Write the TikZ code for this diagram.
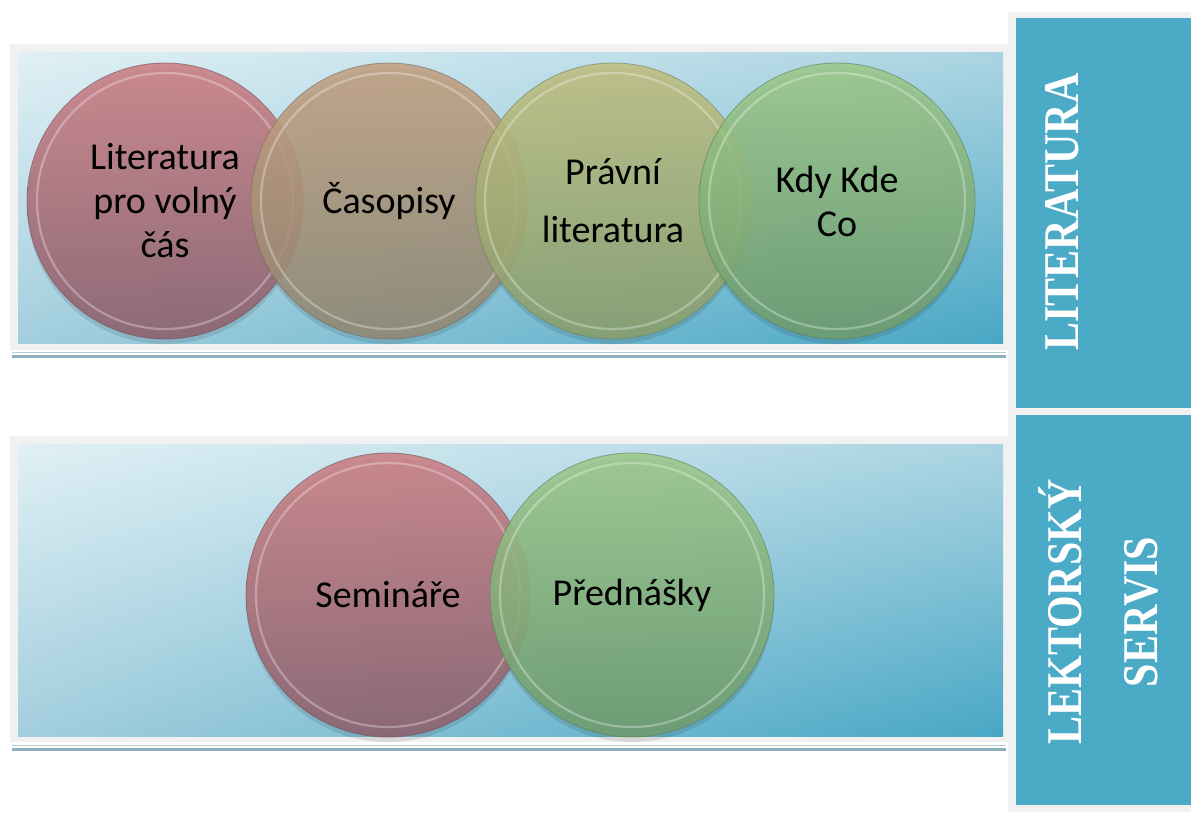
\documentclass[tikz,border=0pt]{standalone}
\usepackage{fontspec}
\usetikzlibrary{shadings}
\newfontfamily\circfont{Carlito}
\newfontfamily\sidefont[FakeStretch=0.84]{Liberation Serif Bold}
\definecolor{framegray}{HTML}{F1F1F1}
\definecolor{sideblue}{HTML}{4BABC7}
\definecolor{pnlUL}{HTML}{E0F0F5}
\definecolor{pnlUR}{HTML}{ABD4E2}
\definecolor{pnlLL}{HTML}{A3CEDD}
\definecolor{pnlLR}{HTML}{48A7C5}
\definecolor{rule1}{HTML}{B7CCD6}
\definecolor{rule2}{HTML}{8EAFBE}
\definecolor{redT}{HTML}{CB7E83}
\definecolor{redB}{HTML}{8E5F6C}
\definecolor{tanT}{HTML}{C2A07F}
\definecolor{tanB}{HTML}{918772}
\definecolor{oliT}{HTML}{C0BF80}
\definecolor{oliB}{HTML}{8A9F6C}
\definecolor{grnT}{HTML}{9CC889}
\definecolor{grnB}{HTML}{6F9C6C}
\begin{document}
\begin{tikzpicture}[x=1pt,y=-1pt,
  frame/.style={fill=framegray,draw=none},
  panel/.style={upper left=pnlUL,upper right=pnlUR,lower left=pnlLL,lower right=pnlLR},
  bubble/.style 2 args={circle,minimum size=#1,inner sep=0pt,
    top color=#2,bottom color=#2,
    fill opacity=0.87,text opacity=1,draw opacity=0.6,line width=0.8pt,
    align=center,text=black,font=\circfont\fontsize{38}{44}\selectfont},
  bevel/.style={white,opacity=0.3,line width=2.2pt},
  drop/.style={black,opacity=0.10},
  sidebox/.style={fill=sideblue,draw=none},
  sidetext/.style={rotate=90,text=white,align=center,
    font=\sidefont\fontsize{50}{76}\selectfont}
]
\useasboundingbox (0,0) rectangle (1191,812);
\fill[white] (0,0) rectangle (1191,812);

% right-hand column with the two section labels
\fill[frame] (1008,12) rectangle (1191,812);
\fill[sidebox] (1016,18) rectangle (1191,408);
\fill[sidebox] (1016,415) rectangle (1191,805);
\node[sidetext] (litlabel) at (1062,212) {LITERATURA};
\node[sidetext] (lektlabel) at (1098,612) {LEKTORSKÝ\\SERVIS};

% upper panel
\fill[frame] (10,44) rectangle (1008,350);
\shade[panel] (18,52) rectangle (1003,343);
\draw[rule1,line width=1pt] (12,352) -- (1006,352);
\draw[rule2,line width=3pt] (12,356) -- (1006,356);

% lower panel
\fill[frame] (10,436) rectangle (1008,742);
\shade[panel] (18,444) rectangle (1003,736);
\draw[rule1,line width=1pt] (12,745) -- (1006,745);
\draw[rule2,line width=3pt] (12,749) -- (1006,749);

% circle centres
\coordinate (p1) at (165,201);
\coordinate (p2) at (389,201);
\coordinate (p3) at (613,201);
\coordinate (p4) at (837,201);
\coordinate (q1) at (388,595);
\coordinate (q2) at (632,595);

% soft drop shadows
\foreach \p in {p1,p2,p3,p4}{\fill[drop] ([yshift=-5pt]\p) circle (138pt);}
\foreach \p in {q1,q2}{\fill[drop] ([yshift=-5pt]\p) circle (142pt);}

% upper row of bubbles
\node[bubble={276pt}{redT},top color=redT,bottom color=redB,draw=redB!80!black] (b1) at (p1) {Literatura\\pro volný\\čás};
\draw[bevel] (b1.center) circle (128pt);
\node[bubble={276pt}{tanT},top color=tanT,bottom color=tanB,draw=tanB!80!black] (b2) at (p2) {Časopisy};
\draw[bevel] (b2.center) circle (128pt);
\node[bubble={276pt}{oliT},top color=oliT,bottom color=oliB,draw=oliB!80!black] (b3) at (p3) {Právní\\[14pt]literatura};
\draw[bevel] (b3.center) circle (128pt);
\node[bubble={276pt}{grnT},top color=grnT,bottom color=grnB,draw=grnB!80!black] (b4) at (p4) {Kdy Kde\\Co};
\draw[bevel] (b4.center) circle (128pt);

% lower row of bubbles
\node[bubble={284pt}{redT},top color=redT,bottom color=redB,draw=redB!80!black] (s1) at (q1) {Semináře};
\draw[bevel] (s1.center) circle (132pt);
\node[bubble={284pt}{grnT},top color=grnT,bottom color=grnB,draw=grnB!80!black] (s2) at (q2) {Přednášky};
\draw[bevel] (s2.center) circle (132pt);
\end{tikzpicture}
\end{document}
